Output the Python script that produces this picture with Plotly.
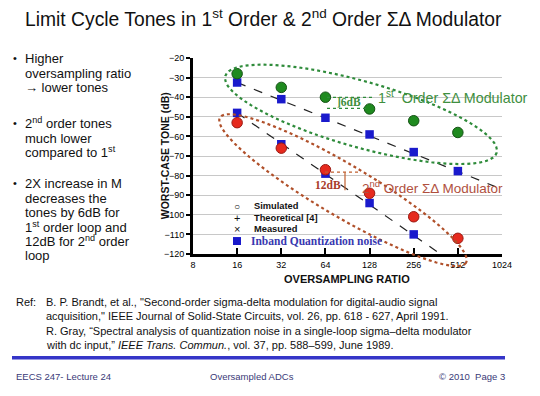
import math
import plotly.graph_objects as go

# ---------------- data ----------------
osr = [16, 32, 64, 128, 256, 512]
first_order_tone = [-28, -35, -40, -46, -52, -58]
first_order_noise = [-32.5, -41, -50.5, -59, -68, -77.7]
second_order_tone = [-53, -66, -77, -89, -101, -112]
second_order_noise = [-48, -64, -79, -94, -110]
trend1_x = [16, 1024]
trend1_y = [-32.5, -87]
trend2_x = [16, 390]
trend2_y = [-48, -120]
x_ticks = [8, 16, 32, 64, 128, 256, 512, 1024]
y_ticks = [-20, -30, -40, -50, -60, -70, -80, -90, -100, -110, -120]

# ---------------- layout geometry (pixels) ----------------
FW, FH = 540, 396
L, R, T, B = 193, 502, 57.5, 254
W, H = R - L, B - T


def px(x):
    return (x - L) / W


def py(y):
    return (B - y) / H


GREEN = "#1f8a1f"
RED = "#e62a1e"
BLUE = "#1a1acc"

fig = go.Figure()

fig.add_trace(go.Scatter(x=trend1_x, y=trend1_y, mode="lines",
                         line=dict(color="#222", width=1.2, dash="dash"), showlegend=False))
fig.add_trace(go.Scatter(x=trend2_x, y=trend2_y, mode="lines",
                         line=dict(color="#222", width=1.2, dash="dash"), showlegend=False))
fig.add_trace(go.Scatter(x=osr, y=first_order_noise, mode="markers",
                         marker=dict(symbol="square", size=8.5, color=BLUE), showlegend=False))
fig.add_trace(go.Scatter(x=osr[:len(second_order_noise)], y=second_order_noise, mode="markers",
                         marker=dict(symbol="square", size=8.5, color=BLUE), showlegend=False))
fig.add_trace(go.Scatter(x=osr, y=first_order_tone, mode="markers",
                         marker=dict(symbol="circle", size=10.5, color=GREEN,
                                     line=dict(color="#145214", width=1)), showlegend=False))
fig.add_trace(go.Scatter(x=osr, y=second_order_tone, mode="markers",
                         marker=dict(symbol="circle", size=10.5, color=RED,
                                     line=dict(color="#9a1a12", width=1)), showlegend=False))

shapes = []


def ellipse(cx, cy, a, b, ang_deg, color):
    th = math.radians(ang_deg)
    pts = []
    for i in range(73):
        p = 2 * math.pi * i / 72
        x = cx + a * math.cos(p) * math.cos(th) - b * math.sin(p) * math.sin(th)
        y = cy + a * math.cos(p) * math.sin(th) + b * math.sin(p) * math.cos(th)
        pts.append(f"{px(x):.4f},{py(y):.4f}")
    path = "M " + " L ".join(pts) + " Z"
    return dict(type="path", xref="paper", yref="paper", path=path,
                line=dict(color=color, width=2.2, dash="dot"))


shapes.append(ellipse(361, 114, 141, 33, 15.8, "#2e8b3a"))
shapes.append(ellipse(343, 190, 143, 26, 30.6, "#b0502a"))


def seg(x0, y0, x1, y1, color, width=1, dash="solid"):
    return dict(type="line", xref="paper", yref="paper", x0=px(x0), y0=py(y0),
                x1=px(x1), y1=py(y1), line=dict(color=color, width=width, dash=dash))


# 6dB markers
shapes.append(seg(327, 97, 372, 97, "#2e8b3a", 1.2, "dot"))
shapes.append(seg(327, 108, 368, 108, "#2e8b3a", 1.2, "dot"))
# 12dB markers
shapes.append(seg(325, 172, 360, 172, "#c06030", 1.2, "dot"))
shapes.append(seg(345, 172, 345, 190, "#c06030", 1.2))
# blue slide rule
shapes.append(dict(type="line", xref="paper", yref="paper", x0=px(12), y0=py(358),
                   x1=px(505), y1=py(358), line=dict(color="#3535c8", width=3.5)))

ann = []


def text(x, y, s, size=13, color="#111", xanchor="left", family="Liberation Sans, Arial",
         yanchor="middle", angle=0):
    ann.append(dict(xref="paper", yref="paper", x=px(x), y=py(y), text=s, showarrow=False,
                    xanchor=xanchor, yanchor=yanchor, textangle=angle,
                    font=dict(size=size, color=color, family=family)))


# title
text(263, 17, "Limit Cycle Tones in 1<sup>st</sup> Order &amp; 2<sup>nd</sup> Order ΣΔ Modulator",
     size=19.3, xanchor="center")

# bullets
bullet_lines = [
    (58, "•", "Higher"), (73, None, "oversampling ratio"), (87, None, "→ lower tones"),
    (123, "•", "2<sup>nd</sup> order tones"), (138, None, "much lower"),
    (152, None, "compared to 1<sup>st</sup>"),
    (183, "•", "2X increase in M"), (198, None, "decreases the"),
    (212, None, "tones by 6dB for"), (227, None, "1<sup>st</sup> order loop and"),
    (241, None, "12dB for 2<sup>nd</sup> order"), (256, None, "loop"),
]
for y, b, s in bullet_lines:
    if b:
        text(11, y, b, size=11)
    text(23, y, s, size=13)

# axis titles
text(165, 156, "<b>WORST-CASE TONE (dB)</b>", size=10.5, xanchor="center", angle=-90)
text(347, 279, "<b>OVERSAMPLING RATIO</b>", size=11, xanchor="center")

# in-plot legend
text(237, 206, "○", size=10, xanchor="center")
text(237, 218, "+", size=11, xanchor="center")
text(237, 229, "×", size=11, xanchor="center")
text(252, 206, "<b>Simulated</b>", size=9.3)
text(252, 218, "<b>Theoretical [4]</b>", size=9.3)
text(252, 229, "<b>Measured</b>", size=9.3)
text(249, 241, "<b>Inband Quantization noise</b>", size=11.5, color="#3838b0",
     family="Liberation Serif, Times New Roman")
shapes.append(dict(type="rect", xref="paper", yref="paper", x0=px(233), y0=py(245),
                   x1=px(241), y1=py(237), fillcolor=BLUE, line=dict(width=0)))

# series labels
text(376, 97, "1<sup>st</sup>  Order ΣΔ Modulator", size=14.3, color="#3f8f3f")
text(335, 102, "<b>]6dB</b>", size=11.5, color="#3f8f3f", family="Liberation Serif, Times New Roman")
text(313, 185, "<b>12dB</b>", size=11.5, color="#a83a2a", family="Liberation Serif, Times New Roman")
text(360, 187, "2<sup>nd</sup> Order ΣΔ Modulator", size=13.5, color="#b0503e")

# references
RS = 11
text(14, 302, "Ref:", size=RS)
text(44, 302, "B. P. Brandt, et al., \"Second-order sigma-delta modulation for digital-audio signal", size=RS)
text(44, 316, "acquisition,\" IEEE Journal of Solid-State Circuits, vol. 26, pp. 618 - 627, April 1991.", size=RS)
text(44, 331, "R. Gray, “Spectral analysis of quantization noise in a single-loop sigma–delta modulator", size=RS)
text(44, 345, "with dc input,” <i>IEEE Trans. Commun.</i>, vol. 37, pp. 588–599, June 1989.", size=RS)

# footer
FOOT = "#3a3a78"
text(14, 377, "EECS 247- Lecture 24", size=9.5, color=FOOT)
text(252, 377, "Oversampled ADCs", size=9.5, color=FOOT, xanchor="center")
text(507, 377, "© 2010  Page 3", size=9.5, color=FOOT, xanchor="right")

fig.update_layout(
    width=FW, height=FH,
    margin=dict(l=L, r=FW - R, t=T, b=FH - B, pad=0),
    paper_bgcolor="white", plot_bgcolor="white",
    shapes=shapes, annotations=ann, showlegend=False,
    xaxis=dict(type="log", range=[math.log10(8), math.log10(1024)],
               tickvals=x_ticks, ticktext=[str(v) for v in x_ticks],
               showgrid=False, zeroline=False, showline=True, linecolor="black", linewidth=3,
               ticks="inside", ticklen=6, tickwidth=1.5, tickcolor="black",
               tickfont=dict(size=9, color="black", family="Liberation Sans, Arial"),
               tickprefix="<b>", ticksuffix="</b>"),
    yaxis=dict(range=[-120, -20], tickvals=y_ticks,
               showgrid=True, gridcolor="#c8c8c8", gridwidth=1, zeroline=False,
               showline=True, linecolor="black", linewidth=3,
               ticks="outside", ticklen=4, tickwidth=1.5, tickcolor="black",
               tickfont=dict(size=9, color="black", family="Liberation Sans, Arial"),
               tickprefix="<b>", ticksuffix="</b>"),
)

fig.write_html("out.html", config={"displayModeBar": False},
               post_script="document.body.style.margin='0px';")
